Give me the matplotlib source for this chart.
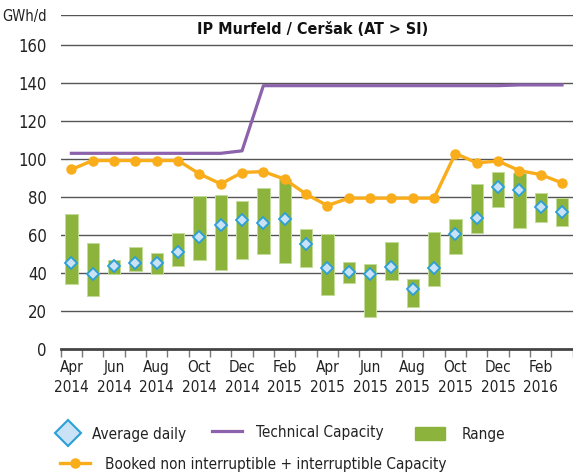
import matplotlib
matplotlib.use("Agg")
import matplotlib.pyplot as plt
from matplotlib.lines import Line2D
from matplotlib.patches import Rectangle
import numpy as np

plt.rcParams['font.family'] = ['DejaVu Sans']
plt.rcParams['font.stretch'] = 'condensed'

# monthly values, Apr 2014 .. Mar 2016 (GWh/d)
range_low = [34.1, 28.1, 39.4, 41.3, 39.4, 43.8, 46.6, 41.8, 47.3, 49.8, 45.5, 43.4,
             28.5, 34.5, 17.1, 36.2, 22.0, 33.4, 50.1, 60.8, 75.0, 63.5, 67.0, 64.8]
range_high = [71.2, 55.7, 47.1, 53.8, 50.3, 61.0, 80.4, 80.9, 78.0, 85.0, 89.3, 62.9,
              60.7, 45.7, 45.0, 56.4, 37.1, 61.7, 68.4, 86.6, 93.3, 92.8, 82.0, 79.4]
average = [45.5, 39.7, 43.6, 45.5, 45.5, 51.2, 58.7, 65.2, 68.0, 66.1, 68.5, 55.4,
           42.4, 40.3, 39.7, 43.1, 31.5, 42.4, 60.5, 69.1, 85.3, 83.5, 74.5, 72.3]
booked = [94.5, 99.2, 99.2, 99.2, 99.2, 99.2, 92.2, 86.9, 92.9, 93.4, 89.4, 81.5,
          75.5, 79.4, 79.4, 79.4, 79.4, 79.4, 102.9, 98.0, 98.9, 93.9, 91.8, 87.4]
technical = [103.0, 103.0, 103.0, 103.0, 103.0, 103.0, 103.0, 103.0, 104.3, 138.6, 138.6, 138.6,
             138.6, 138.6, 138.6, 138.6, 138.6, 138.6, 138.6, 138.6, 138.6, 139.0, 139.0, 139.0]
tick_labels = ["Apr\n2014", "Jun\n2014", "Aug\n2014", "Oct\n2014", "Dec\n2014", "Feb\n2015",
               "Apr\n2015", "Jun\n2015", "Aug\n2015", "Oct\n2015", "Dec\n2015", "Feb\n2016"]

green = '#8cb43c'
orange = '#f9ad1b'
purple = '#8b62ab'
blue_edge = '#2a9fd8'
blue_fill = '#c9e2f6'
grid = '#555555'
text_col = '#222222'

W, H = 573, 476
fig = plt.figure(figsize=(W / 100, H / 100), dpi=100)
ax = fig.add_axes([60.7 / W, 1 - 349 / H, 512 / W, 334 / H])

x = np.arange(len(average)) + 0.5
low = np.array(range_low)
high = np.array(range_high)

ax.bar(x, high - low, bottom=low, width=0.58, color=green,
       edgecolor='#c2dc98', linewidth=0.7, zorder=3)
ax.plot(x, technical, color=purple, lw=2.3, zorder=4, solid_joinstyle='round')
ax.plot(x, booked, color=orange, lw=2.4, marker='o', ms=6.5, zorder=5)
ax.plot(x, average, ls='none', marker='D', ms=6.5, mfc=blue_fill, mec=blue_edge,
        mew=1.3, zorder=6)

# axes and grid
ax.set_xlim(0, 24)
ax.set_ylim(0, 175.8)
yt = [0, 20, 40, 60, 80, 100, 120, 140, 160, 175.8]
ax.set_yticks(yt)
ax.set_yticklabels(['0', '20', '40', '60', '80', '100', '120', '140', '160', 'GWh/d'])
for v in yt[1:]:
    ax.axhline(v, color=grid, lw=1.0, zorder=1)
ax.tick_params(axis='y', length=0, pad=10, labelsize=12, colors=text_col)
ax.get_yticklabels()[-1].set_fontsize(10.5)

ax.set_xticks(np.arange(0, 25))
ax.set_xticklabels([])
ax.set_xticks(np.arange(0.5, 24, 2), minor=True)
ax.set_xticklabels(tick_labels, minor=True)
ax.tick_params(axis='x', which='major', length=6, width=1.0, color='#777777', direction='out')
ax.tick_params(axis='x', which='minor', length=0, pad=8, labelsize=11, colors=text_col)
for lbl in ax.get_xticklabels(minor=True):
    lbl.set_linespacing(1.4)

for side in ['top', 'right', 'left']:
    ax.spines[side].set_visible(False)
ax.spines['bottom'].set_color('#444444')
ax.spines['bottom'].set_linewidth(2.0)
ax.spines['bottom'].set_zorder(7)

ax.text(11.83, 168, 'IP Murfeld / Cer\u0161ak (AT > SI)', ha='center', va='center',
        fontsize=11.5, fontweight='bold', color='#111111')

# legend, laid out in figure pixels
def fx(px):
    return px / W

def fy(py):
    return 1 - py / H

fig.add_artist(Line2D([fx(68)], [fy(433)], ls='none', marker='D', ms=13,
                      mfc=blue_fill, mec=blue_edge, mew=1.5, transform=fig.transFigure))
fig.text(fx(92), fy(434), 'Average daily', fontsize=11, va='center', color=text_col)
fig.add_artist(Line2D([fx(212), fx(242)], [fy(431), fy(431)], color=purple, lw=2.3,
                      transform=fig.transFigure))
fig.text(fx(256), fy(433), 'Technical Capacity', fontsize=11, va='center', color=text_col)
fig.add_artist(Rectangle((fx(415), fy(440)), fx(30), 13 / H, color=green,
                         transform=fig.transFigure))
fig.text(fx(462), fy(434), 'Range', fontsize=11, va='center', color=text_col)
fig.add_artist(Line2D([fx(60), fx(90)], [fy(463), fy(463)], color=orange, lw=2.4,
                      transform=fig.transFigure))
fig.add_artist(Line2D([fx(75)], [fy(463)], ls='none', color=orange, marker='o', ms=6.5,
                      transform=fig.transFigure))
fig.text(fx(105), fy(464), 'Booked non interruptible + interruptible Capacity', fontsize=11,
         va='center', color=text_col)

fig.savefig('out.png', dpi=100)
